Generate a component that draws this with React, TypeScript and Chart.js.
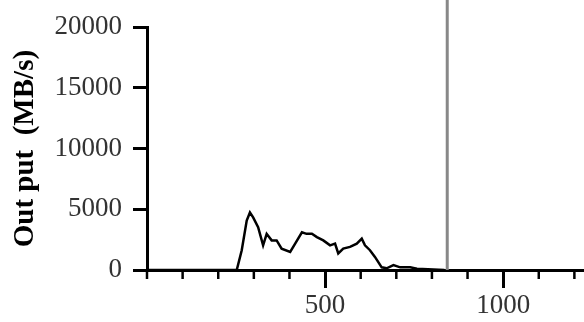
import { useEffect, useRef } from 'react';
import { Chart, registerables } from 'chart.js';

Chart.register(...registerables);

const xs = [0, 252, 266, 280, 289, 298, 312, 326, 336, 350, 364, 378, 402, 416, 435, 448, 463, 477, 495, 514, 528, 537, 551, 570, 589, 603, 612, 626, 640, 659, 673, 692, 711, 739, 758, 835];
const ys = [0, 0, 1630, 4070, 4740, 4330, 3520, 2030, 2980, 2440, 2440, 1760, 1490, 2170, 3110, 2980, 2980, 2710, 2440, 2030, 2170, 1360, 1760, 1900, 2170, 2580, 2030, 1630, 1080, 220, 140, 400, 220, 220, 100, 0];
const yTicks = [0, 5000, 10000, 15000, 20000];
const xMajor = [500, 1000];
const markerX = 843;
const yTitle = 'Out put  (MB/s)';

const FONT = 'Liberation Serif';

export default function App() {
  const ref = useRef<HTMLCanvasElement>(null);
  useEffect(() => {
    document.body.style.margin = '0';
    const isMajor = (v: number) => xMajor.includes(v);
    const extras = {
      id: 'extras',
      afterDraw(chart: any) {
        const ctx = chart.ctx;
        const xS = chart.scales.x;
        const { bottom } = chart.chartArea;
        ctx.save();
        ctx.strokeStyle = '#000';
        ctx.lineWidth = 2.5;
        xS.ticks.forEach((t: any) => {
          if (!isMajor(t.value)) {
            const px = xS.getPixelForValue(t.value);
            ctx.beginPath();
            ctx.moveTo(px, bottom);
            ctx.lineTo(px, bottom + 9);
            ctx.stroke();
          }
        });
        const vx = xS.getPixelForValue(markerX);
        ctx.strokeStyle = '#888';
        ctx.lineWidth = 3;
        ctx.beginPath();
        ctx.moveTo(vx, 0);
        ctx.lineTo(vx, bottom);
        ctx.stroke();
        ctx.restore();
      },
    };
    const chart = new Chart(ref.current!, {
      type: 'line',
      data: {
        datasets: [
          {
            data: xs.map((x, i) => ({ x, y: ys[i] })),
            borderColor: '#000',
            borderWidth: 2.5,
            pointRadius: 0,
            tension: 0,
          },
        ],
      },
      options: {
        animation: false,
        responsive: false,
        devicePixelRatio: 1,
        layout: { padding: { top: 24, right: 0, left: 0, bottom: 0 } },
        plugins: { legend: { display: false }, tooltip: { enabled: false } },
        scales: {
          x: {
            type: 'linear',
            min: 0,
            max: 1227,
            ticks: {
              stepSize: 100,
              includeBounds: false,
              autoSkip: false,
              maxRotation: 0,
              padding: 2,
              font: { family: FONT, size: 27 },
              color: '#333',
              callback: (v: any) => (isMajor(v) ? String(v) : ''),
            },
            grid: {
              drawOnChartArea: false,
              tickLength: 18,
              tickWidth: 3,
              tickColor: (c: any) => (c.tick && isMajor(c.tick.value) ? '#000' : 'rgba(0,0,0,0)'),
            },
            border: { width: 3, color: '#000' },
            afterFit: (s: any) => {
              s.height = 52;
            },
          },
          y: {
            min: 0,
            max: 20000,
            afterBuildTicks: (s: any) => {
              s.ticks = yTicks.map((v) => ({ value: v }));
            },
            ticks: {
              padding: 11,
              font: { family: FONT, size: 27 },
              color: '#333',
              callback: (v: any) => String(v),
            },
            grid: { drawOnChartArea: false, tickLength: 14, tickWidth: 3, tickColor: '#000' },
            border: { width: 3, color: '#000' },
            title: {
              display: true,
              text: yTitle,
              font: { family: FONT, size: 29, weight: 'bold' },
              color: '#000',
              padding: { top: 8, bottom: 0 },
            },
            afterFit: (s: any) => {
              s.width = 147;
            },
          },
        },
      },
      plugins: [extras],
    } as any);
    return () => chart.destroy();
  }, []);
  return <canvas ref={ref} width={584} height={322} style={{ display: 'block' }} />;
}
